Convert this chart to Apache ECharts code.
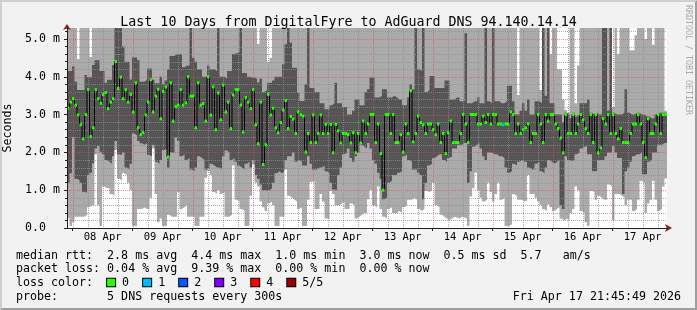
<!DOCTYPE html>
<html><head><meta charset="utf-8">
<script src="https://cdn.jsdelivr.net/npm/echarts@6/dist/echarts.min.js"></script>
<style>html,body{margin:0;padding:0;background:#f2f2f2}#c{width:697px;height:310px}</style>
</head><body><div id="c"></div>
<script>
const titleText = 'Last 10 Days from DigitalFyre to AdGuard DNS 94.140.14.14';
const yAxisName = 'Seconds';
const dayLabels = ['08 Apr','09 Apr','10 Apr','11 Apr','12 Apr','13 Apr','14 Apr','15 Apr','16 Apr','17 Apr'];
const yTickValues = [0, 1, 2, 3, 4, 5];
const yMax = 5.29;
const spanHours = 240;            // 10 days, hourly bins
const firstMidnight = 2.236;      // hours from graph start (Apr 7 21:45:49) to Apr 8 00:00

// lowest ping (top of white area)
const ping1 = [
0.27,0.05,0.15,0.3,0.3,0.3,0.3,0.35,0.55,0.6,0.6,1.95,0.6,0.05,1.1,1.05,1.05,0.9,0.85,2.06,
1.3,1.25,1.45,1.4,1.2,1.0,0.05,0.05,0.5,0.5,0.55,0.5,0.5,0.8,2.1,0.9,0.15,0.25,0.05,0.05,
0.35,0.3,0.3,0.3,0.95,0.5,0.55,0.6,0.3,0.3,0.3,0.05,0.05,0.3,0.3,1.33,1.5,1.4,0.95,0.9,
1.0,0.9,0.95,0.3,0.3,0.35,1.65,0.75,0.7,0.5,0.45,0.05,0.05,0.85,1.68,1.2,1.1,0.7,0.55,0.45,
0.65,0.7,0.6,0.05,0.05,0.3,0.3,1.55,0.85,0.8,0.75,0.7,0.5,0.55,0.05,0.05,0.75,1.22,1.24,0.5,
0.5,0.9,0.7,0.25,0.25,0.98,0.9,0.6,0.6,0.65,0.7,0.5,0.5,0.65,0.6,0.25,0.3,0.35,0.4,0.4,
0.76,1.0,0.6,0.55,1.1,0.5,0.3,0.25,0.5,0.55,0.4,0.4,0.45,0.4,0.55,0.6,0.75,0.75,0.8,0.75,
0.5,0.45,0.5,0.98,0.95,1.0,1.2,0.6,0.55,0.35,0.3,0.25,0.2,0.25,0.3,0.28,0.25,0.3,0.28,0.25,
0.05,0.83,1.05,1.46,1.0,0.8,0.7,0.75,1.2,0.95,0.7,0.9,1.2,0.75,0.8,0.05,0.05,0.1,0.89,0.85,
0.75,0.75,0.7,0.72,1.4,0.9,0.9,0.8,0.7,0.6,0.5,0.45,0.62,0.55,0.45,0.5,0.55,0.25,0.2,0.25,
0.2,0.4,0.5,1.1,1.0,0.45,0.4,0.15,0.05,0.98,0.95,0.75,0.85,0.8,0.75,0.75,1.15,1.1,0.2,0.9,
0.9,0.85,0.8,0.6,0.75,0.75,0.45,0.5,0.75,1.24,1.2,0.4,0.65,0.75,1.24,0.75,0.45,0.5,1.1,1.31];

// second ping (bottom of dark smoke)
const ping2 = [
1.2,1.45,2.4,1.3,1.27,1.2,0.96,0.93,1.4,1.46,1.71,2.1,2.17,2.02,1.95,1.8,1.75,1.7,1.9,2.3,
1.95,1.93,2.0,1.6,1.55,1.7,2.5,2.45,2.3,2.24,2.2,2.24,1.93,1.9,2.2,1.75,1.7,1.8,2.06,2.1,
1.6,2.0,2.0,2.4,2.3,1.9,1.95,1.8,1.85,1.55,1.5,1.6,1.9,1.85,1.8,1.55,1.6,1.7,1.65,1.6,
1.6,1.55,1.9,2.05,2.0,1.8,1.85,1.75,1.65,1.6,1.55,1.7,1.75,1.6,1.8,1.4,1.3,1.15,1.0,1.0,
1.0,1.05,1.2,1.45,1.5,1.45,1.5,1.8,1.9,1.9,2.0,1.75,1.8,1.75,1.65,1.65,1.9,1.7,1.55,1.55,
1.6,1.6,1.65,1.5,1.45,1.2,1.02,1.0,1.4,1.6,1.95,2.0,2.1,1.85,1.75,1.9,2.0,2.2,2.15,2.1,
2.25,2.1,1.8,1.7,1.46,1.3,0.76,0.8,1.2,1.25,1.4,1.4,1.46,1.5,1.9,1.95,1.8,1.75,1.55,1.55,
1.46,1.4,0.76,1.2,1.65,1.7,1.85,1.9,1.95,1.95,1.8,1.75,1.85,1.9,2.1,2.1,2.2,2.2,2.25,2.25,
1.2,1.5,2.15,2.2,2.25,2.1,1.9,1.8,2.0,2.0,1.95,1.95,1.9,1.9,1.85,1.6,1.46,1.5,1.7,1.65,
1.75,1.8,1.75,1.75,1.6,1.55,1.55,1.7,1.75,1.5,1.45,1.6,1.8,1.75,1.7,1.75,1.8,0.6,0.5,1.9,
1.8,1.77,1.8,1.95,2.0,2.1,2.15,2.17,1.95,1.95,1.5,1.5,1.8,1.8,1.8,1.9,2.0,2.0,2.17,2.0,
1.85,1.85,0.9,1.5,1.6,1.75,1.9,1.95,1.95,2.0,1.42,1.42,1.75,1.8,2.0,2.0,2.2,2.2,2.25,2.25];

// median rtt (ms)
const median = [
3.17,3.33,3.42,3.25,2.99,2.73,2.36,3.0,3.66,2.42,2.65,3.66,3.42,3.30,3.53,3.58,3.16,3.33,3.42,4.40,
3.69,3.99,3.42,3.66,3.33,3.53,3.07,3.84,2.65,2.47,2.52,2.99,3.33,3.92,3.07,3.49,3.67,2.89,3.61,3.73,
1.88,3.84,2.83,3.21,3.25,3.66,3.25,3.31,4.0,3.49,3.49,2.65,3.84,3.25,3.29,2.83,4.0,2.99,3.73,2.60,
3.57,2.86,3.78,3.07,3.33,2.63,3.52,3.66,3.66,3.25,2.54,3.45,3.33,3.16,3.66,2.73,2.23,3.33,1.68,2.20,
3.53,2.99,3.17,2.65,2.52,2.79,3.12,3.37,2.63,2.95,2.88,2.5,3.07,3.0,2.96,2.01,2.5,2.26,2.99,2.26,
2.5,2.99,2.5,2.74,2.5,2.74,1.99,2.74,2.57,2.25,2.5,2.5,2.47,2.25,2.52,1.99,2.5,2.25,2.83,2.5,
2.75,3.0,3.0,2.26,2.75,1.97,1.0,3.0,3.0,2.5,3.0,2.26,2.26,2.47,2.01,2.75,2.5,3.63,2.28,2.5,
2.96,2.79,2.73,2.5,2.75,2.75,2.6,2.47,2.75,2.26,2.5,1.97,2.52,2.83,2.26,2.26,2.26,2.5,3.0,2.75,
2.26,3.0,3.0,3.0,2.75,2.75,2.96,2.79,3.0,2.75,3.0,3.0,2.75,2.75,2.73,2.75,2.75,3.07,3.0,2.5,
2.75,2.5,2.6,2.65,2.75,2.26,2.5,2.5,3.0,2.75,2.26,3.0,2.83,3.0,3.0,2.75,2.63,2.38,1.99,3.0,
2.5,2.5,3.0,2.5,2.75,3.0,2.86,2.63,2.5,3.0,2.26,3.0,1.99,2.12,2.89,2.75,3.0,2.5,3.0,2.5,
2.36,2.63,2.26,2.26,2.26,2.5,2.75,2.75,3.0,2.75,2.26,1.86,2.89,2.5,2.5,2.75,3.0,2.5,3.0,3.0];

// fourth ping (top of dark smoke)
const ping4 = [
4.15,4.15,4.27,3.87,3.65,3.65,3.65,4.05,3.99,3.99,4.31,4.44,4.44,4.15,4.15,3.84,3.92,3.92,4.31,5.3,
5.3,5.3,4.8,4.4,4.4,3.93,4.51,4.51,4.44,3.87,3.87,3.92,4.22,4.22,3.92,3.83,3.83,4.0,3.8,3.9,
4.2,4.55,4.55,4.6,4.6,4.6,4.25,4.3,4.3,5.3,4.5,4.4,4.2,4.2,4.0,4.0,4.3,4.2,4.2,4.15,
5.3,4.0,4.0,3.95,4.15,4.15,4.6,4.62,4.65,5.3,4.1,4.1,4.0,3.98,3.98,3.95,3.85,3.95,3.6,3.65,
3.84,3.84,3.9,4.0,4.0,4.0,4.33,4.86,5.3,4.9,4.24,4.24,3.58,3.36,3.36,3.8,5.3,3.7,3.7,3.6,
3.6,3.3,3.3,3.14,3.14,3.25,3.3,3.84,3.3,3.3,3.2,3.2,3.0,3.0,3.1,3.4,3.4,3.25,3.25,3.6,
3.67,3.98,3.98,3.45,3.45,3.5,3.67,3.67,3.45,3.45,3.5,3.45,3.4,3.4,3.25,3.25,3.45,3.8,3.67,5.3,
4.2,4.15,5.3,3.6,3.65,4.02,4.02,3.7,3.7,3.7,3.7,3.9,3.9,3.4,3.4,3.45,3.45,3.35,3.35,5.15,
3.3,3.3,3.35,3.35,3.45,3.3,3.3,5.3,3.35,3.3,5.3,3.35,3.35,3.3,3.3,3.35,3.76,3.76,3.35,3.0,
3.0,3.1,3.3,3.1,3.4,3.0,3.0,3.35,3.35,3.3,5.3,3.5,5.3,3.3,3.3,3.0,3.0,3.0,2.8,3.05,
3.0,2.9,3.05,2.95,3.0,3.3,3.3,3.3,3.4,3.05,3.0,3.05,3.0,3.0,5.3,5.3,3.1,5.3,3.05,3.0,
3.0,3.0,3.05,3.67,3.05,3.0,3.0,3.05,3.05,3.0,3.0,2.95,2.95,2.9,2.9,3.0,3.05,3.05,3.05,3.05];

// highest ping (top of light smoke; above the axis max where it is clipped)
const ping5 = [
6,6,6,6,4.47,6,6,6,6,4.52,6,6,6,6,6,6,6,6,6,6,
6,6,6,6,6,6,6,6,6,6,6,6,6,6,6,6,6,6,6,6,
6,6,6,6,6,6,6,6,6,6,6,6,6,6,6,6,6,6,6,6,
6,6,6,6,6,6,6,6,6,6,6,6,6,6,6,6,4.87,6,6,6,
4.4,4.5,6,6,6,6,6,6,6,6,6,6,6,6,6,6,6,6,6,6,
6,6,6,6,6,6,6,6,6,6,6,6,6,6,6,6,6,6,6,6,
6,6,6,6,6,6,6,6,6,6,6,6,6,6,6,6,6,6,6,6,
6,6,6,6,6,6,6,6,6,6,6,6,6,6,6,6,6,6,6,6,
6,6,6,6,6,6,6,6,6,6,6,6,6,6,6,6,6,6,6,6,
3.52,6,6,6,6,6,6,6,6,3.65,6,6,6,4.6,6,6,4.2,4.2,3.4,3.12,
3.05,6,6,3.3,4.3,6,6,6,6,6,6,6,6,6,6,6,6,6,3.2,6,
4.6,6,6,6,6,4.7,4.7,5.1,6,6,6,5.0,6,6,4.85,6,6,6,6,3.1];

const lossBins = [174];
const lossLevels = [1];
const lossColors = ['#26ff00','#00b8ff','#0059ff','#7e00ff','#ff0000','#a10000'];
const lossLabels = ['0','1','2','3','4','5/5'];

const statLine1 = 'median rtt:  2.8 ms avg  4.4 ms max  1.0 ms min  3.0 ms now  0.5 ms sd  5.7   am/s';
const statLine2 = 'packet loss: 0.04 % avg  9.39 % max  0.00 % min  0.00 % now';
const lossPrefix = 'loss color:  ';
const probeLine = 'probe:       5 DNS requests every 300s';
const stampLine = 'Fri Apr 17 21:45:49 2026';
const watermark = 'RRDTOOL / TOBI OETIKER';

const MONO = '"DejaVu Sans Mono", monospace';
const LIGHT = '#aaaaaa', DARK = '#555555';
const GRID_MAJOR = 'rgba(222,79,79,0.6)', GRID_MINOR = 'rgba(143,143,143,0.75)';

function stepData(arr) {
  const d = arr.map((v, i) => [i, v]);
  d.push([arr.length, arr[arr.length - 1]]);
  return d;
}

const midnights = [], noons = [], sixHours = [];
for (let k = 0; k < 10; k++) { midnights.push(firstMidnight + 24 * k); noons.push(firstMidnight + 12 + 24 * k); }
for (let k = 0; firstMidnight + 6 * k < spanHours; k++) { if (k % 4) sixHours.push(firstMidnight + 6 * k); }
const minorY = [];
for (let k = 1; k * 0.2 < yMax; k++) { if (k % 5) minorY.push(+(k * 0.2).toFixed(2)); }

const lossOf = i => { const j = lossBins.indexOf(i); return j < 0 ? 0 : lossLevels[j]; };

// painter's order: each band is an area from 0 to its ping, later ones on top
function band(name, data, color) {
  return {
    name, type: 'line', step: 'end', data: stepData(data),
    symbol: 'none', silent: true, z: 2,
    lineStyle: { width: 0, opacity: 0 },
    areaStyle: { color, opacity: 1, origin: 'start' }
  };
}

// vertical grid: [x, 0, major]; horizontal grid: [0, y, major]
const vGrid = sixHours.map(v => [v, 0, 0]).concat(midnights.map(v => [v, 0, 1]));
const hGrid = minorY.map(v => [0, v, 0]).concat(yTickValues.filter(v => v > 0).map(v => [0, v, 1]));

function gridSeries(name, data, vertical) {
  return {
    name, type: 'custom', z: 3, silent: true, clip: false, data,
    renderItem: (params, api) => {
      const cs = params.coordSys;
      const major = api.value(2);
      const style = { stroke: major ? GRID_MAJOR : GRID_MINOR, lineWidth: 1, lineDash: [1, 1] };
      if (vertical) {
        const x = Math.round(api.coord([api.value(0), 0])[0]) + 0.5;
        return { type: 'line', shape: { x1: x, y1: cs.y, x2: x, y2: cs.y + cs.height }, style };
      }
      const y = Math.round(api.coord([0, api.value(1)])[1]) + 0.5;
      return { type: 'line', shape: { x1: cs.x, y1: y, x2: cs.x + cs.width, y2: y }, style };
    }
  };
}

const chart = echarts.init(document.getElementById('c'), null, { renderer: 'canvas' });

const lossRich = {};
lossColors.forEach((c, i) => {
  lossRich['b' + i] = { width: 8, height: 7.5, backgroundColor: c, borderColor: '#000', borderWidth: 1, verticalAlign: 'middle' };
});
const lossText = lossPrefix + lossLabels.map((l, i) => '{b' + i + '| } ' + l + '  ').join('');

const textEl = (txt, x, y, extra) => Object.assign({
  type: 'text', x, y, silent: true, z: 10,
  style: Object.assign({ text: txt, font: '11.65px ' + MONO, fill: '#000', verticalAlign: 'middle', textVerticalAlign: 'middle' }, extra || {})
});

chart.setOption({
  animation: false,
  backgroundColor: '#f2f2f2',
  title: {
    text: titleText, left: 'center', top: 11,
    textStyle: { fontFamily: MONO, fontSize: 13.3, fontWeight: 'normal', color: '#000' }
  },
  grid: {
    left: 67, right: 30, top: 28, bottom: 82, containLabel: false, outerBoundsMode: 'none',
    show: true, backgroundColor: '#ffffff', borderWidth: 0
  },
  xAxis: [
    {
      type: 'value', min: 0, max: spanHours, position: 'bottom', z: 6,
      axisLine: { show: true, lineStyle: { color: '#1f1f1f', width: 1 } },
      axisTick: { show: true, length: 3, customValues: midnights, lineStyle: { color: '#1f1f1f' } },
      axisLabel: {
        customValues: noons, margin: 4, color: '#000', fontFamily: MONO, fontSize: 10.5,
        formatter: v => dayLabels[Math.round((v - firstMidnight - 12) / 24)] || ''
      },
      splitLine: { show: false }
    },
    {
      type: 'value', min: 0, max: spanHours, position: 'bottom', z: 5.5,
      axisLine: { show: true, symbol: ['none', 'arrow'], symbolSize: [6, 7], symbolOffset: [0, 5], lineStyle: { color: '#801f1f' } },
      axisTick: { show: false }, axisLabel: { show: false }, splitLine: { show: false }
    }
  ],
  yAxis: [
    {
      type: 'value', min: 0, max: yMax, interval: 1, z: 6,
      name: yAxisName, nameLocation: 'middle', nameGap: 50, nameRotate: 90,
      nameTextStyle: { fontFamily: MONO, fontSize: 11.6, color: '#000' },
      axisLine: { show: true, lineStyle: { color: '#1f1f1f', width: 1 } },
      axisTick: { show: true, length: 3, customValues: yTickValues, lineStyle: { color: '#1f1f1f' } },
      minorTick: { show: true, splitNumber: 5, length: 2, lineStyle: { color: '#1f1f1f' } },
      axisLabel: {
        customValues: yTickValues, margin: 7, color: '#000', fontFamily: MONO, fontSize: 11.6,
        formatter: v => v === 0 ? '0.0  ' : v.toFixed(1) + ' m'
      },
      splitLine: { show: false }, minorSplitLine: { show: false }
    },
    {
      type: 'value', min: 0, max: yMax, position: 'left', z: 5.5,
      axisLine: { show: true, symbol: ['none', 'arrow'], symbolSize: [6, 6], symbolOffset: [0, 4], lineStyle: { color: '#801f1f' } },
      axisTick: { show: false }, axisLabel: { show: false }, splitLine: { show: false }
    }
  ],
  series: [
    band('ping5', ping5, LIGHT),
    band('ping4', ping4, DARK),
    band('ping2', ping2, LIGHT),
    band('ping1', ping1, '#ffffff'),
    gridSeries('hgrid', hGrid, false),
    gridSeries('vgrid', vGrid, true),
    {
      name: 'median-line', type: 'line', step: 'end', data: stepData(median),
      symbol: 'none', silent: true, z: 4,
      lineStyle: { color: '#000', width: 1 }
    },
    {
      name: 'median', type: 'custom', z: 5, clip: true, silent: true,
      data: median.map((v, i) => [i, v, lossOf(i)]),
      renderItem: (params, api) => {
        const x = api.value(0), v = api.value(1), c = api.value(2);
        const a = api.coord([x, v]), b = api.coord([x + 1, v]);
        return { type: 'rect', shape: { x: a[0], y: a[1] - 1.5, width: b[0] - a[0], height: 3 }, style: { fill: lossColors[c] } };
      }
    }
  ],
  graphic: [
    { type: 'polygon', silent: true, z: 0, shape: { points: [[0,0],[697,0],[695,2],[2,2],[2,308],[0,310]] }, style: { fill: '#cfcfcf' } },
    { type: 'polygon', silent: true, z: 0, shape: { points: [[697,0],[697,310],[0,310],[2,308],[695,308],[695,2]] }, style: { fill: '#9e9e9e' } },
    textEl(statLine1, 16, 255.5),
    textEl(statLine2, 16, 268.5),
    textEl(lossText, 16, 282.5, { rich: lossRich }),
    textEl(probeLine, 16, 296.5),
    textEl(stampLine, 681, 296.5, { align: 'right', textAlign: 'right' }),
    {
      type: 'text', x: 688, y: 60, rotation: -Math.PI / 2, silent: true, z: 10,
      style: { text: watermark, font: '8.3px ' + MONO, fill: '#aaaaaa', align: 'center', textAlign: 'center', verticalAlign: 'middle', textVerticalAlign: 'middle' }
    }
  ]
});
</script>
</body></html>
